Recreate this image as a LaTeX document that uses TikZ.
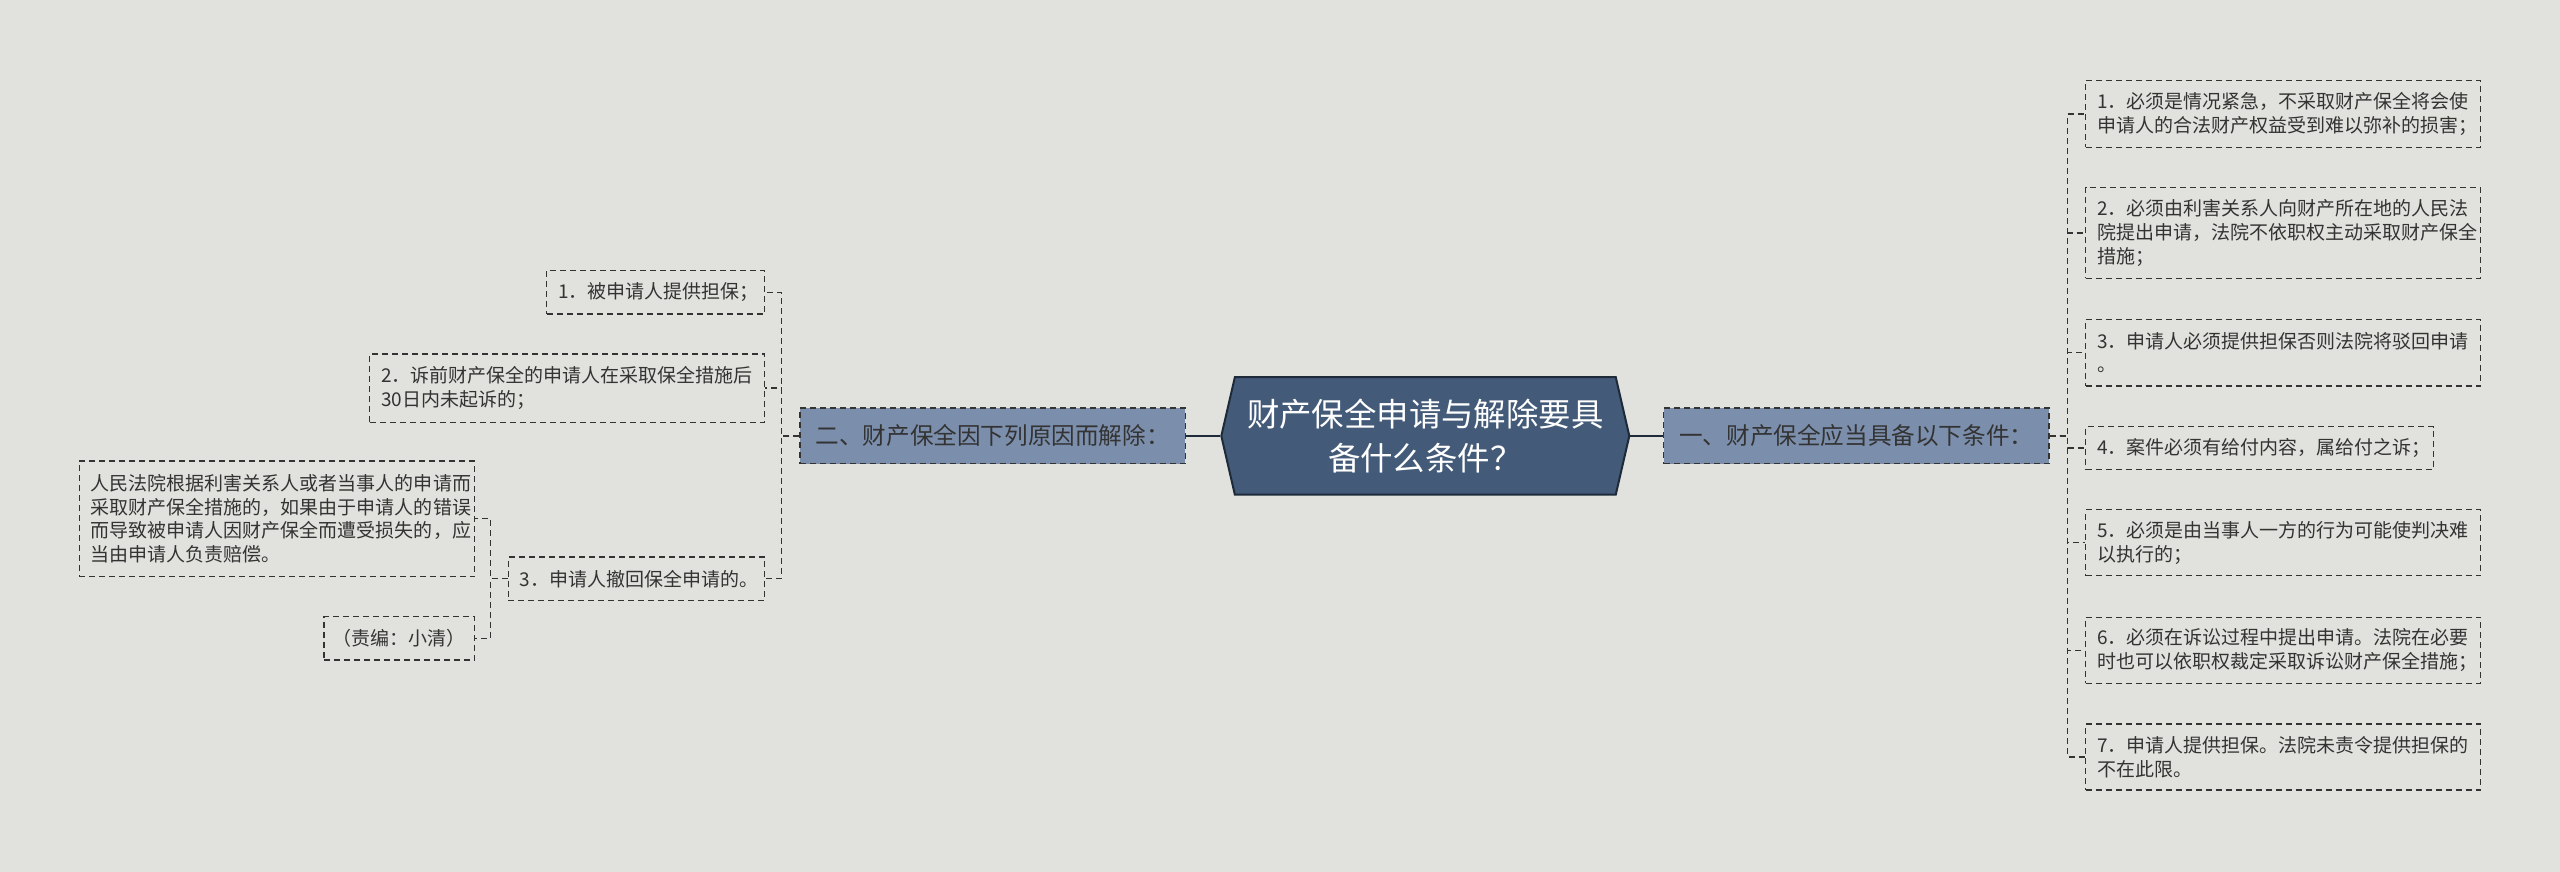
\documentclass[tikz,border=0pt]{standalone}
\usepackage{fontspec}
\setmainfont{Noto Sans CJK SC}
\usepackage{tikz}
\usetikzlibrary{shapes.symbols}

\definecolor{bgcol}{HTML}{E1E2DD}
\definecolor{topicfill}{HTML}{435A79}
\definecolor{topicline}{HTML}{1E2A3A}
\definecolor{branchfill}{HTML}{7B8EAB}
\definecolor{inkcol}{HTML}{333333}

\begin{document}
\begin{tikzpicture}[x=0.8163pt,y=-0.8163pt,
  topic/.style={shape=signal,signal to=west and east,signal pointer angle=154,
    fill=topicfill,draw=topicline,line width=1pt,text=white,align=center,
    minimum width=204pt,minimum height=58.8pt,inner sep=0pt,
    font=\fontsize{16.2}{22}\selectfont},
  branch/.style={draw=inkcol,dash pattern=on 3pt off 2pt,line width=0.7pt,
    fill=branchfill,text=inkcol,minimum width=192.6pt,minimum height=27.8pt,
    inner sep=0pt,font=\fontsize{11.8}{14}\selectfont},
  leaf/.style={draw=inkcol,dash pattern=on 3pt off 2pt,line width=0.6pt,
    text=inkcol,align=left,inner xsep=5.75pt,inner ysep=2pt,text width=186pt,
    font=\fontsize{9.5}{11.8}\selectfont},
  link/.style={draw=inkcol,dash pattern=on 3pt off 2pt,line width=0.6pt},
  stem/.style={draw=topicline,line width=1pt}]
  % Background
  \fill[bgcol] (0,0) rectangle (1568,534);
  \useasboundingbox (0,0) rectangle (1568,534);
  % Central topic
  \node[topic] (c) at (873,267) {财产保全申请与解除要具\\备什么条件？};
  % Main branches
  \node[branch] (R) at (1137,267) {一、财产保全应当具备以下条件：};
  \node[branch] (L) at (608,267) {二、财产保全因下列原因而解除：};
  % Conditions
  \node[leaf,anchor=west,minimum height=33.3pt] (r1) at (1277,69.8)
    {1．必须是情况紧急，不采取财产保全将会使\\申请人的合法财产权益受到难以弥补的损害；};
  \node[leaf,anchor=west,minimum height=45.2pt] (r2) at (1277,142.7)
    {2．必须由利害关系人向财产所在地的人民法\\院提出申请，法院不依职权主动采取财产保全\\措施；};
  \node[leaf,anchor=west,minimum height=33.3pt] (r3) at (1277,216)
    {3．申请人必须提供担保否则法院将驳回申请\\。};
  \node[leaf,anchor=west,minimum height=21.3pt,text width=162.4pt] (r4) at (1277,274.4)
    {4．案件必须有给付内容，属给付之诉；};
  \node[leaf,anchor=west,minimum height=33pt] (r5) at (1277,332.5)
    {5．必须是由当事人一方的行为可能使判决难\\以执行的；};
  \node[leaf,anchor=west,minimum height=33pt] (r6) at (1277,398.2)
    {6．必须在诉讼过程中提出申请。法院在必要\\时也可以依职权裁定采取诉讼财产保全措施；};
  \node[leaf,anchor=west,minimum height=33pt] (r7) at (1277,463.7)
    {7．申请人提供担保。法院未责令提供担保的\\不在此限。};
  % Causes of release
  \node[leaf,anchor=east,minimum height=21.7pt,text width=97.5pt] (l1) at (468.8,179)
    {1．被申请人提供担保；};
  \node[leaf,anchor=east,minimum height=34.1pt] (l2) at (468.8,237.7)
    {2．诉前财产保全的申请人在采取保全措施后\\30日内未起诉的；};
  \node[leaf,anchor=east,minimum height=21.7pt,text width=116.7pt] (l3) at (468.8,354.5)
    {3．申请人撤回保全申请的。};
  \node[leaf,anchor=east,minimum height=57.8pt] (la) at (291,317.7)
    {人民法院根据利害关系人或者当事人的申请而\\采取财产保全措施的，如果由于申请人的错误\\而导致被申请人因财产保全而遭受损失的，应\\当由申请人负责赔偿。};
  \node[leaf,anchor=east,minimum height=21.7pt,text width=66.5pt,align=center,inner xsep=4.4pt] (lb) at (291,390.9)
    {（责编：小清）};
  % Connectors
  \draw[stem] (c.east) -- (R.west);
  \draw[stem] (c.west) -- (L.east);
  \foreach \n in {r1,r2,r3,r4,r5,r6,r7}
    \draw[link] (R.east) -- ++(11,0) |- (\n.west);
  \foreach \n in {l1,l2,l3}
    \draw[link] (L.west) -- ++(-11,0) |- (\n.east);
  \foreach \n in {la,lb}
    \draw[link] (l3.west) -- ++(-10.5,0) |- (\n.east);
\end{tikzpicture}
\end{document}
